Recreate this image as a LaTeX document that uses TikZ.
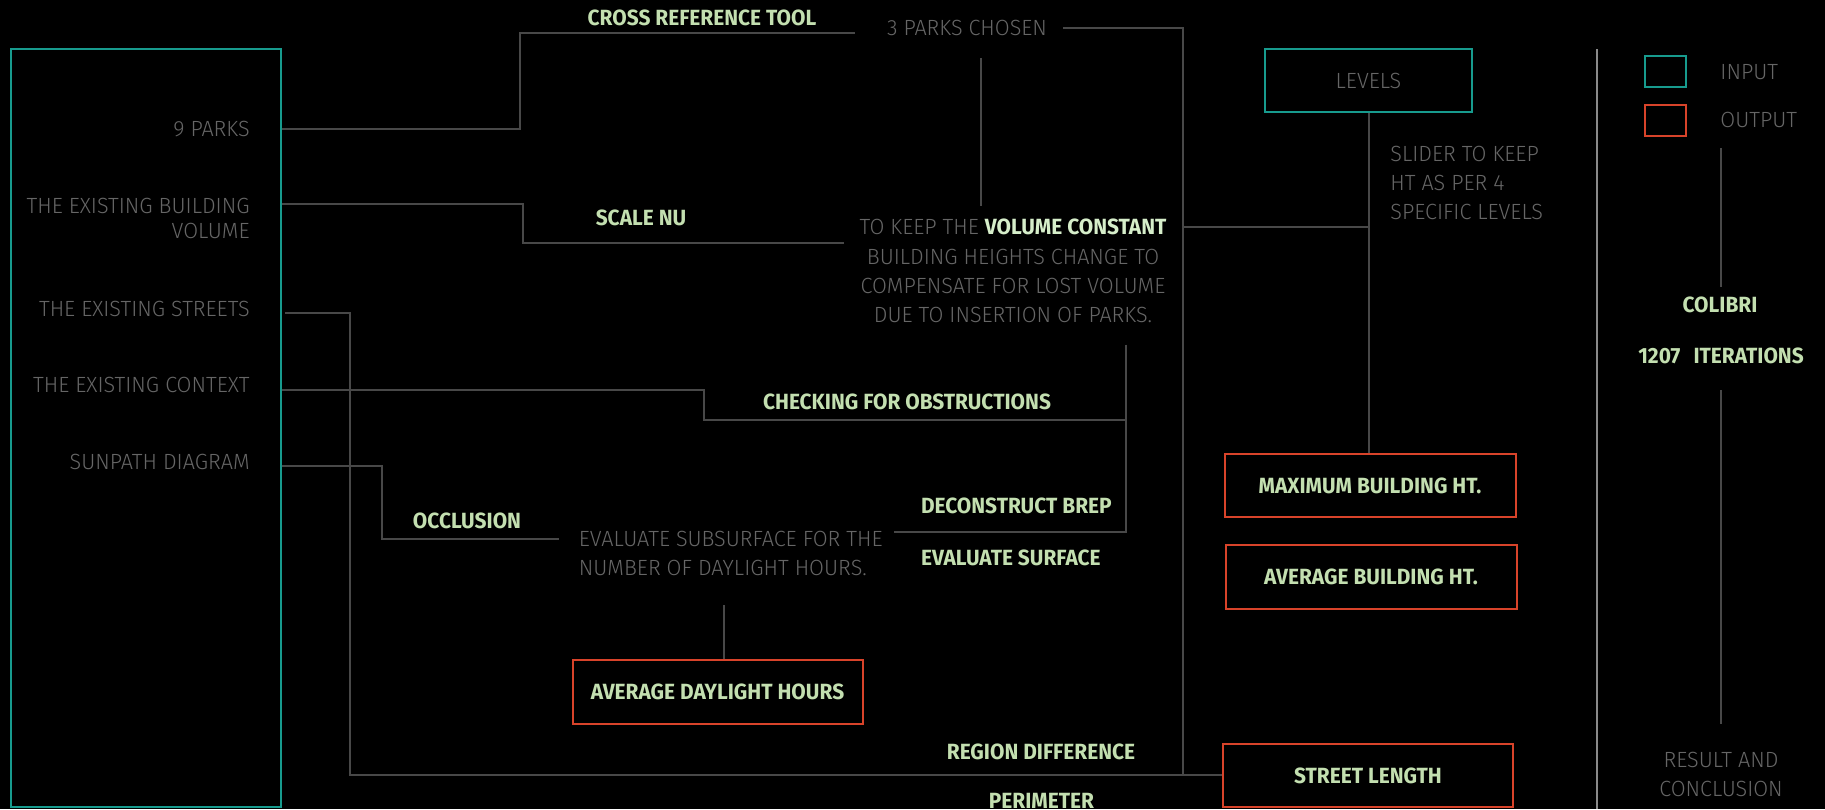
\documentclass[tikz,border=0pt]{standalone}
\usepackage{fontspec}
\setmainfont{Fira Sans}[UprightFeatures={FakeStretch=0.96}, BoldFeatures={FakeStretch=0.95}]
\newfontfamily\thinfont{Fira Sans Light}[FakeStretch=0.98]
\definecolor{bgc}{HTML}{000000}
\definecolor{txtgray}{HTML}{666666}
\definecolor{linegray}{HTML}{484848}
\definecolor{sepgray}{HTML}{8A8A8A}
\definecolor{incyan}{HTML}{179B8E}
\definecolor{outred}{HTML}{D8432A}
\definecolor{grn}{HTML}{C3DFB0}
\definecolor{brightgrn}{HTML}{D6EECA}
\tikzset{
  lbl/.style={inner sep=0pt, text=txtgray, font=\fontsize{11}{14.6}\selectfont\thinfont},
  grnlbl/.style={inner sep=0pt, text=grn, font=\fontsize{11}{14.6}\selectfont\bfseries},
  inbox/.style={draw=incyan, line width=1pt, inner sep=0pt},
  outbox/.style={draw=outred, line width=1pt, inner sep=0pt},
  conn/.style={draw=linegray, line width=1pt},
}
\begin{document}
\begin{tikzpicture}[x=0.5pt,y=-0.5pt]
\fill[bgc] (0,0) rectangle (1825,809);
\useasboundingbox (0,0) rectangle (1825,809);

% boxes
\node[inbox, minimum width=135pt, minimum height=379pt] (leftbox) at (145.5,428) {};
\node[inbox, minimum width=103.5pt, minimum height=31.5pt, text=txtgray, font=\fontsize{11}{14}\selectfont\thinfont] (levels) at (1368.5,80.5) {LEVELS};
\node[outbox, minimum width=145.5pt, minimum height=31.5pt, text=grn, font=\fontsize{11}{14}\selectfont\bfseries] (maxht) at (1370,485.5) {MAXIMUM BUILDING HT.};
\node[outbox, minimum width=145.5pt, minimum height=32pt, text=grn, font=\fontsize{11}{14}\selectfont\bfseries] (avght) at (1371,577) {AVERAGE BUILDING HT.};
\node[outbox, minimum width=145pt, minimum height=31.5pt, text=grn, font=\fontsize{11}{14}\selectfont\bfseries] (street) at (1368,775.5) {STREET LENGTH};
\node[outbox, minimum width=145pt, minimum height=32pt, text=grn, font=\fontsize{11}{14}\selectfont\bfseries] (daylight) at (717.5,692) {AVERAGE DAYLIGHT HOURS};
\node[inbox, minimum width=20.5pt, minimum height=15.5pt] (legin) at (1665,71.5) {};
\node[outbox, minimum width=20.5pt, minimum height=15.5pt] (legout) at (1665,120) {};

% left labels
\node[lbl, anchor=east] (parks) at (250,129) {9 PARKS};
\node[lbl, anchor=east, align=right, font=\fontsize{11}{12.5}\selectfont\thinfont] (vol) at (250,218.5) {THE EXISTING BUILDING\\VOLUME};
\node[lbl, anchor=east] (streets) at (250,308.5) {THE EXISTING STREETS};
\node[lbl, anchor=east] (context) at (250,385) {THE EXISTING CONTEXT};
\node[lbl, anchor=east] (sunpath) at (250,462) {SUNPATH DIAGRAM};

% middle labels
\node[grnlbl] (crossref) at (702,17.5) {CROSS REFERENCE TOOL};
\node[lbl] (chosen) at (967,28) {3 PARKS CHOSEN};
\node[grnlbl] (scalenu) at (641,218) {SCALE NU};
\node[lbl, align=center] (volpara) at (1013,271) {TO KEEP THE {\normalfont\bfseries\color{brightgrn}VOLUME CONSTANT}\\BUILDING HEIGHTS CHANGE TO\\COMPENSATE FOR LOST VOLUME\\DUE TO INSERTION OF PARKS.};
\node[grnlbl] (checking) at (907,401.5) {CHECKING FOR OBSTRUCTIONS};
\node[grnlbl] (occlusion) at (467,521) {OCCLUSION};
\node[lbl, anchor=west, align=left] (evalsub) at (578.5,553.5) {EVALUATE SUBSURFACE FOR THE\\NUMBER OF DAYLIGHT HOURS.};
\node[grnlbl, anchor=west] (decon) at (920.6,506) {DECONSTRUCT BREP};
\node[grnlbl, anchor=west] (evalsurf) at (920.6,557.5) {EVALUATE SURFACE};
\node[grnlbl] (region) at (1041,752) {REGION DIFFERENCE};
\node[grnlbl] (perim) at (1041.5,801) {PERIMETER};

% right labels
\node[lbl, anchor=west, align=left] (slider) at (1390,183) {SLIDER TO KEEP\\HT AS PER 4\\SPECIFIC LEVELS};
\node[lbl, anchor=west] (input) at (1720,72) {INPUT};
\node[lbl, anchor=west] (output) at (1720,120) {OUTPUT};
\node[grnlbl] (colibri) at (1720,305) {COLIBRI};
\node[grnlbl] (iter) at (1721,356) {1207\hspace{0.6em}ITERATIONS};
\node[lbl, align=center] (result) at (1721,774.5) {RESULT AND\\CONCLUSION};

% coordinates for free ends / bends
\coordinate (parksend) at (855,33);
\coordinate (volend) at (844,243);
\coordinate (ctxend) at (1125.5,420);
\coordinate (vtop) at (1125.5,344.5);
\coordinate (vbot) at (1125.5,532);
\coordinate (deconend) at (894,532);
\coordinate (sunend) at (558.7,539);
\coordinate (chosenR) at (1063,28);
\coordinate (bigV) at (1182.5,775);
\coordinate (volR) at (1182.5,227);
\coordinate (levV) at (1370,227);
\coordinate (chosenB) at (981,58);
\coordinate (volT) at (981,206);
\coordinate (evalB) at (724,605);
\coordinate (rc1a) at (1721,148);
\coordinate (rc1b) at (1721,287);
\coordinate (rc2a) at (1721,390);
\coordinate (rc2b) at (1721,724);
\coordinate (sepT) at (1597,49);
\coordinate (sepB) at (1597,809);
\coordinate (strS) at (285,313);

% connectors
\draw[conn] (leftbox.east |- 0,129) -| (520,33) -- (parksend);
\draw[conn] (leftbox.east |- 0,203.7) -| (522.6,243) -- (volend);
\draw[conn] (strS) -| (350,775) -- (street.west |- 0,775);
\draw[conn] (leftbox.east |- 0,390) -| (704,420) -- (ctxend);
\draw[conn] (vtop) -- (vbot) -- (deconend);
\draw[conn] (leftbox.east |- 0,465.5) -| (382,539) -- (sunend);
\draw[conn] (chosenR) -| (bigV);
\draw[conn] (volR) -- (levV);
\draw[conn] (levels.south) -- (maxht.north -| levels.south);
\draw[conn] (chosenB) -- (volT);
\draw[conn] (evalB) -- (daylight.north -| evalB);
\draw[conn] (rc1a) -- (rc1b);
\draw[conn] (rc2a) -- (rc2b);
\draw[draw=sepgray, line width=1pt] (sepT) -- (sepB);
\end{tikzpicture}
\end{document}
